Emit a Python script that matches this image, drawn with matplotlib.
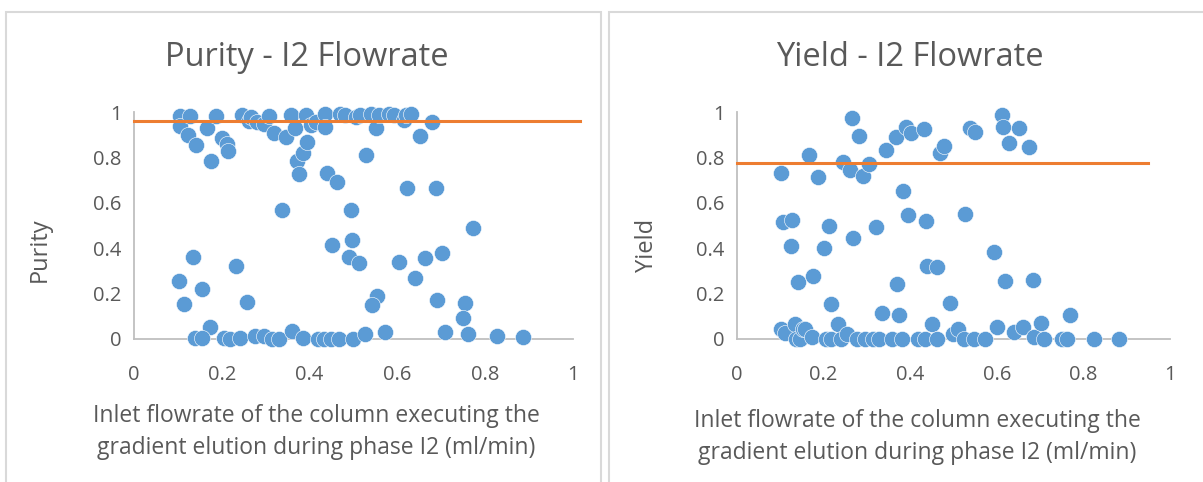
import matplotlib
matplotlib.use("Agg")
import matplotlib.pyplot as plt
from matplotlib.patches import Rectangle

plt.rcParams['font.family'] = ['Open Sans', 'DejaVu Sans']

# ---------------- data ----------------
purity_x = [0.105, 0.105, 0.128, 0.122, 0.141, 0.167, 0.175, 0.187, 0.200, 0.211, 0.215,
            0.246, 0.262, 0.266, 0.281, 0.295, 0.308, 0.320, 0.346, 0.357, 0.366, 0.371,
            0.375, 0.385, 0.394, 0.392, 0.403, 0.414, 0.436, 0.436, 0.440, 0.462, 0.469,
            0.480, 0.506, 0.514, 0.529, 0.540, 0.551, 0.558, 0.582, 0.593, 0.615, 0.619,
            0.632, 0.652, 0.678, 0.621, 0.687,
            0.336, 0.494, 0.773, 0.452, 0.497, 0.702, 0.135, 0.490, 0.512, 0.603, 0.663,
            0.233, 0.641, 0.103, 0.155, 0.554, 0.542, 0.690, 0.754, 0.113, 0.257, 0.750,
            0.173, 0.138, 0.154, 0.205, 0.218, 0.241, 0.275, 0.296, 0.314, 0.331, 0.359,
            0.384, 0.418, 0.432, 0.449, 0.466, 0.499, 0.527, 0.571, 0.708, 0.760, 0.826,
            0.885]
purity_y = [0.983, 0.939, 0.983, 0.899, 0.855, 0.930, 0.786, 0.983, 0.884, 0.858, 0.826,
            0.986, 0.959, 0.978, 0.954, 0.945, 0.983, 0.906, 0.891, 0.986, 0.930, 0.786,
            0.729, 0.819, 0.870, 0.988, 0.942, 0.954, 0.993, 0.935, 0.732, 0.693, 0.993,
            0.988, 0.978, 0.988, 0.809, 0.993, 0.930, 0.986, 0.993, 0.986, 0.964, 0.988,
            0.993, 0.894, 0.957, 0.664, 0.667,
            0.568, 0.568, 0.490, 0.416, 0.435, 0.381, 0.362, 0.362, 0.333, 0.341, 0.358,
            0.322, 0.268, 0.254, 0.220, 0.191, 0.148, 0.174, 0.159, 0.152, 0.164, 0.091,
            0.051, 0.003, 0.003, 0.003, 0.000, 0.003, 0.012, 0.014, 0.000, 0.000, 0.036,
            0.003, 0.000, 0.000, 0.000, 0.000, 0.000, 0.022, 0.032, 0.032, 0.022, 0.012,
            0.007]
purity_target = 0.96

yield_x = [0.101, 0.167, 0.187, 0.245, 0.261, 0.265, 0.281, 0.292, 0.306, 0.344, 0.367,
           0.383, 0.391, 0.401, 0.432, 0.468, 0.478, 0.538, 0.550, 0.612, 0.615, 0.629,
           0.651, 0.675,
           0.107, 0.128, 0.124, 0.142, 0.176, 0.200, 0.212, 0.216, 0.269, 0.320, 0.335,
           0.370, 0.373, 0.394, 0.436, 0.439, 0.462, 0.493, 0.527, 0.594, 0.619, 0.684,
           0.770,
           0.101, 0.110, 0.135, 0.137, 0.145, 0.153, 0.157, 0.173, 0.205, 0.218, 0.233,
           0.240, 0.254, 0.277, 0.295, 0.313, 0.328, 0.359, 0.381, 0.419, 0.435, 0.451,
           0.462, 0.498, 0.511, 0.525, 0.547, 0.572, 0.601, 0.639, 0.660, 0.687, 0.701,
           0.708, 0.750, 0.761, 0.824, 0.883]
yield_y = [0.732, 0.809, 0.714, 0.780, 0.746, 0.974, 0.896, 0.717, 0.772, 0.833, 0.891,
           0.652, 0.935, 0.909, 0.925, 0.819, 0.852, 0.928, 0.913, 0.986, 0.935, 0.862,
           0.928, 0.848,
           0.514, 0.525, 0.409, 0.249, 0.278, 0.399, 0.500, 0.152, 0.446, 0.493, 0.113,
           0.243, 0.104, 0.548, 0.519, 0.323, 0.316, 0.157, 0.551, 0.384, 0.254, 0.258,
           0.104,
           0.043, 0.025, 0.065, 0.000, 0.000, 0.043, 0.044, 0.007, 0.000, 0.000, 0.065,
           0.000, 0.020, 0.000, 0.000, 0.000, 0.000, 0.000, 0.000, 0.000, 0.000, 0.065,
           0.000, 0.020, 0.043, 0.000, 0.000, 0.000, 0.051, 0.032, 0.054, 0.007, 0.070,
           0.000, 0.000, 0.000, 0.000, 0.000]
yield_target = 0.775

ticks = [0, 0.2, 0.4, 0.6, 0.8, 1]
tick_labels = ["0", "0.2", "0.4", "0.6", "0.8", "1"]
xlabel = "Inlet flowrate of the column executing the\ngradient elution during phase I2 (ml/min)"

# ---------------- layout ----------------
W, H = 1203, 482
fig = plt.figure(figsize=(W / 100, H / 100), dpi=100)
fig.patch.set_facecolor("white")

def px(x0, y0, x1, y1):
    return [x0 / W, 1 - y1 / H, (x1 - x0) / W, (y1 - y0) / H]

# panel borders
for (bx0, bx1) in [(6, 601), (609, 1210)]:
    fig.patches.append(Rectangle((bx0 / W, -0.05), (bx1 - bx0) / W, (H - 12) / H + 0.05,
                                 transform=fig.transFigure, fill=False,
                                 edgecolor="#d9d9d9", linewidth=1.5))

BLUE = "#5b9bd5"
ORANGE = "#ed7d31"
GREY_TXT = "#595959"

panels = [
    dict(rect=px(134, 112, 573, 339), x=purity_x, y=purity_y, target=purity_target,
         line_end=1.017, title="Purity - I2 Flowrate", ylabel="Purity",
         title_xy=(307, 58), ylab_xy=(40, 250), xlab_xy=(316, 432)),
    dict(rect=px(737, 112, 1170, 339), x=yield_x, y=yield_y, target=yield_target,
         line_end=0.95, title="Yield - I2 Flowrate", ylabel="Yield",
         title_xy=(910, 58), ylab_xy=(647, 245), xlab_xy=(917, 437)),
]

for p in panels:
    ax = fig.add_axes(p["rect"])
    ax.scatter(p["x"], p["y"], s=135, color=BLUE, edgecolors="white", linewidths=0.4,
               zorder=3, clip_on=False)
    ax.plot([0, p["line_end"]], [p["target"], p["target"]], color=ORANGE, lw=2.2,
            zorder=4, clip_on=False)
    ax.set_xlim(0, 1)
    ax.set_ylim(0, 1)
    ax.set_xticks(ticks)
    ax.set_xticklabels(tick_labels)
    ax.set_yticks(ticks)
    ax.set_yticklabels(tick_labels)
    ax.tick_params(length=0, labelsize=14.5, colors=GREY_TXT)
    ax.tick_params(axis="x", pad=19)
    ax.tick_params(axis="y", pad=9)
    for s in ["top", "right"]:
        ax.spines[s].set_visible(False)
    for s in ["left", "bottom"]:
        ax.spines[s].set_color("#bfbfbf")
        ax.spines[s].set_linewidth(1.3)
    ax.set_facecolor("none")
    tx, ty = p["title_xy"]
    fig.text(tx / W, 1 - ty / H, p["title"], ha="center", va="center", fontsize=23.5,
             color=GREY_TXT)
    lx, ly = p["ylab_xy"]
    fig.text(lx / W, 1 - ly / H, p["ylabel"], ha="center", va="center", fontsize=17,
             color=GREY_TXT, rotation=90)
    xx, xy = p["xlab_xy"]
    fig.text(xx / W, 1 - xy / H, xlabel, ha="center", va="center", fontsize=16.5,
             color=GREY_TXT, linespacing=1.4)

fig.savefig("out.png", dpi=100)
